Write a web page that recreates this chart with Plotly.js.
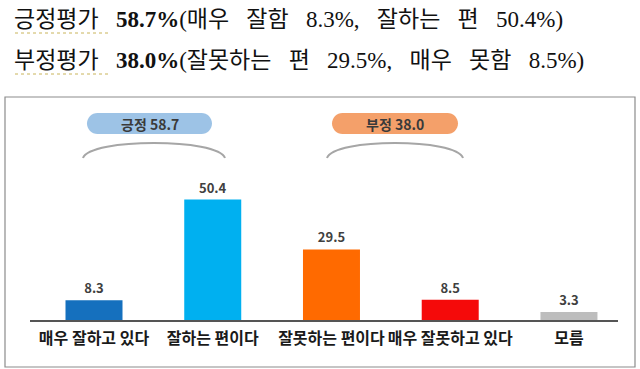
<!DOCTYPE html>
<html><head><meta charset="utf-8">
<script src="https://cdn.plot.ly/plotly-3.0.1.min.js"></script>
<style>html,body{margin:0;padding:0;background:#fff}#chart{width:640px;height:369px}</style>
</head><body><div id="chart"></div>
<script>
const categories = ['매우 잘하고 있다', '잘하는 편이다', '잘못하는 편이다', '매우 잘못하고 있다', '모름'];
const values = [8.3, 50.4, 29.5, 8.5, 3.3];
const barColors = ['#1570BE', '#00B0F0', '#FF6A00', '#F50A0A', '#BDBDBD'];
const groupLabels = ['긍정 58.7', '부정 38.0'];
const headline1 = '긍정평가   <b>58.7%</b>(매우   잘함   8.3%,   잘하는   편   50.4%)';
const headline2 = '부정평가   <b>38.0%</b>(잘못하는   편   29.5%,   매우   못함   8.5%)';

const W = 640, H = 369, L = 30, R = 22, T = 97, B = 49;
const pw = W - L - R, ph = H - T - B;
const px = x => (x - L) / pw;
const py = y => (H - B - y) / ph;
const P = (x, y) => px(x).toFixed(4) + ',' + py(y).toFixed(4);

function pill(x0, y0, x1, y1, fill) {
  const r = (y1 - y0) / 2, k = 0.5523 * r;
  const d = 'M ' + P(x0 + r, y0) + ' L ' + P(x1 - r, y0) +
    ' C ' + P(x1 - r + k, y0) + ' ' + P(x1, y0 + r - k) + ' ' + P(x1, y0 + r) +
    ' C ' + P(x1, y0 + r + k) + ' ' + P(x1 - r + k, y1) + ' ' + P(x1 - r, y1) +
    ' L ' + P(x0 + r, y1) +
    ' C ' + P(x0 + r - k, y1) + ' ' + P(x0, y0 + r + k) + ' ' + P(x0, y0 + r) +
    ' C ' + P(x0, y0 + r - k) + ' ' + P(x0 + r - k, y0) + ' ' + P(x0 + r, y0) + ' Z';
  return {type: 'path', xref: 'paper', yref: 'paper', path: d, fillcolor: fill, line: {width: 0}};
}
function arc(x0, x1, yEnd, yCtl) {
  const d = 'M ' + P(x0, yEnd) + ' C ' + P(x0 + 7, yCtl) + ' ' + P(x1 - 7, yCtl) + ' ' + P(x1, yEnd);
  return {type: 'path', xref: 'paper', yref: 'paper', path: d, line: {color: '#A6A6A6', width: 2}};
}

const trace = {
  type: 'bar', x: [0, 1, 2, 3, 4], y: values,
  marker: {color: barColors, line: {width: 0}},
  width: 0.48,
  text: values.map(v => v.toFixed(1)),
  textposition: 'outside',
  textfont: {family: 'Noto Sans CJK KR', size: 13, color: '#404040', weight: 700},
  cliponaxis: false, hoverinfo: 'none'
};

const hdrFont = {family: 'Liberation Serif, Noto Sans CJK KR', size: 23, color: '#111'};
const layout = {
  width: W, height: H,
  margin: {l: L, r: R, t: T, b: B},
  paper_bgcolor: '#fff', plot_bgcolor: '#fff',
  showlegend: false,
  xaxis: {range: [-0.539, 4.413], tickvals: [0, 1, 2, 3, 4], ticktext: categories,
    showgrid: false, zeroline: false, showline: true, linecolor: '#555', linewidth: 1.5,
    ticks: '', ticklabelstandoff: 3,
    tickfont: {family: 'Noto Sans CJK KR', size: 16, color: '#1a1a1a', weight: 700}, fixedrange: true},
  yaxis: {range: [0, 93.3], visible: false, fixedrange: true},
  shapes: [
    {type: 'rect', xref: 'paper', yref: 'paper', x0: px(5), x1: px(635), y0: py(97), y1: py(367), line: {color: '#8C8C8C', width: 1.2}},
    pill(87, 113, 212, 134, '#9DC3E6'),
    pill(332, 113, 458, 134, '#F4A06A'),
    arc(83, 225, 158, 138),
    arc(327, 463, 158, 138),
    {type: 'line', xref: 'paper', yref: 'paper', x0: px(15), x1: px(110), y0: py(33), y1: py(33), line: {color: '#C9B45A', width: 1, dash: 'dot'}},
    {type: 'line', xref: 'paper', yref: 'paper', x0: px(15), x1: px(110), y0: py(74), y1: py(74), line: {color: '#C9B45A', width: 1, dash: 'dot'}}
  ],
  annotations: [
    {xref: 'paper', yref: 'paper', x: px(150), y: py(123.5), xanchor: 'center', yanchor: 'middle',
      text: '<b>' + groupLabels[0] + '</b>', showarrow: false,
      font: {family: 'Noto Sans CJK KR', size: 14, color: '#3A3A3A'}},
    {xref: 'paper', yref: 'paper', x: px(395), y: py(123.5), xanchor: 'center', yanchor: 'middle',
      text: '<b>' + groupLabels[1] + '</b>', showarrow: false,
      font: {family: 'Noto Sans CJK KR', size: 14, color: '#3A3A3A'}},
    {xref: 'paper', yref: 'paper', x: px(12), y: py(20), xanchor: 'left', yanchor: 'middle', text: headline1, showarrow: false, font: hdrFont},
    {xref: 'paper', yref: 'paper', x: px(12), y: py(61), xanchor: 'left', yanchor: 'middle', text: headline2, showarrow: false, font: hdrFont}
  ]
};
Plotly.newPlot('chart', [trace], layout, {displayModeBar: false, staticPlot: true});
</script></body></html>
